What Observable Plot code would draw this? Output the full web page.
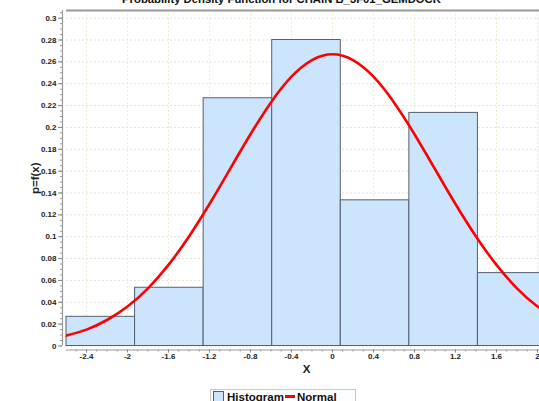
<!DOCTYPE html>
<html>
<head>
<meta charset="utf-8">
<script src="https://cdn.jsdelivr.net/npm/d3@7"></script>
<script src="https://cdn.jsdelivr.net/npm/@observablehq/plot@0.6"></script>
<style>
  html, body { margin: 0; padding: 0; background: #fff; }
  body { width: 539px; height: 401px; overflow: hidden; position: relative; font-family: "Liberation Sans", Arial, sans-serif; }
  #title { position: absolute; z-index: 5; top: -7.5px; left: 0; width: 563px; text-align: center; font-weight: bold; font-size: 11.3px; line-height: 12px; white-space: nowrap; color: #111; }
  #chart { position: absolute; top: 0; left: 0; width: 548px; }
  #chart svg { max-width: none !important; }
  #legend { position: absolute; z-index: 5; left: 210px; top: 389px; width: 144px; height: 20px; border: 1px solid #c8c8c8; background: #fff; font-weight: bold; font-size: 11.5px; color: #111; }
  #legend .item { position: absolute; top: 1px; white-space: nowrap; }
  .swatch { display: inline-block; width: 9px; height: 9px; background: #cce4fc; border: 1px solid #556070; vertical-align: -1px; margin-right: 3px; }
  .redline { display: inline-block; width: 10px; height: 3px; background: #ff0000; vertical-align: 3px; margin-right: 2px; }
</style>
</head>
<body>
<div id="chart"></div>
<div id="title">Probability Density Function for CHAIN B_3F01_GEMDOCK</div>
<div id="legend">
  <span class="item" style="left:2px"><span class="swatch"></span>Histogram</span>
  <span class="item" style="left:74px"><span class="redline"></span>Normal</span>
</div>
<script>
// Histogram bins (edges) and heights
const binEdges = [-2.595, -1.926, -1.257, -0.588, 0.081, 0.750, 1.419, 2.088];
const binHeights = [0.0267, 0.0533, 0.2267, 0.28, 0.1333, 0.2133, 0.0667];

// Normal curve points
const curveX = [-2.6, -2.4, -2.2, -2.0, -1.8, -1.6, -1.4, -1.2, -1.0, -0.8, -0.6, -0.4, -0.2, 0.0, 0.2, 0.4, 0.6, 0.8, 1.0, 1.2, 1.4, 1.6, 1.8, 2.0, 2.2];
const curveY = [0.0095, 0.0150, 0.0238, 0.0361, 0.0528, 0.0742, 0.1002, 0.1299, 0.1619, 0.1938, 0.2229, 0.2464, 0.2616, 0.2669, 0.2616, 0.2464, 0.2229, 0.1938, 0.1619, 0.1299, 0.1002, 0.0742, 0.0528, 0.0361, 0.0238];

// Tick values / labels
const xTicks = [-2.4, -2, -1.6, -1.2, -0.8, -0.4, 0, 0.4, 0.8, 1.2, 1.6, 2];
const xTickLabels = ["-2.4", "-2", "-1.6", "-1.2", "-0.8", "-0.4", "0", "0.4", "0.8", "1.2", "1.6", "2"];
const yTicks = [0, 0.02, 0.04, 0.06, 0.08, 0.1, 0.12, 0.14, 0.16, 0.18, 0.2, 0.22, 0.24, 0.26, 0.28, 0.3];
const yTickLabels = ["0", "0.02", "0.04", "0.06", "0.08", "0.1", "0.12", "0.14", "0.16", "0.18", "0.2", "0.22", "0.24", "0.26", "0.28", "0.3"];

const xDomain = [binEdges[0], binEdges[binEdges.length - 1]];
const yDomain = [0, 0.307];

const bins = binHeights.map((h, i) => ({x1: binEdges[i], x2: binEdges[i + 1], h}));
const curve = curveX.map((x, i) => ({x, y: curveY[i]}));
const xMinor = d3.range(-25, 21).map(i => i / 10).filter(v => v >= xDomain[0] && v <= xDomain[1]);
const yMinor = d3.range(0, 62).map(i => i * 0.005).filter(v => v <= yDomain[1]);

const xLab = new Map(xTicks.map((t, i) => [t, xTickLabels[i]]));
const yLab = new Map(yTicks.map((t, i) => [t, yTickLabels[i]]));

const chart = Plot.plot({
  width: 548,
  height: 380,
  marginTop: 10,
  marginBottom: 34.5,
  marginLeft: 66,
  marginRight: 2,
  x: {domain: xDomain},
  y: {domain: yDomain},
  style: {fontFamily: "'Liberation Sans', Arial, sans-serif", fontSize: "8px", background: "#fff", maxWidth: "none"},
  marks: [
    Plot.gridY(yTicks, {stroke: "#e2e2d6", strokeOpacity: 1, strokeDasharray: "2,2"}),
    Plot.gridX(xTicks, {stroke: "#ececd4", strokeOpacity: 1, strokeDasharray: "2,2"}),
    Plot.rectY(bins, {x1: "x1", x2: "x2", y: "h", fill: "#cce4fc", stroke: "#556070", strokeWidth: 1}),
    Plot.line(curve, {x: "x", y: "y", stroke: "#ff0000", strokeWidth: 2.6, curve: "natural", clip: true}),
    // top frame line
    Plot.ruleY([yDomain[1]], {stroke: "#999", strokeWidth: 2}),
    // y axis (offset)
    Plot.ruleX([xDomain[0]], {dx: -4, stroke: "#999", strokeWidth: 1.2}),
    Plot.axisY(yMinor, {dx: -4, tickSize: 2, text: null, stroke: "#999"}),
    Plot.axisY(yTicks, {dx: -4, tickSize: 4, tickPadding: 2, stroke: "#888", fontWeight: "bold", fill: "#222", tickFormat: d => yLab.get(d), label: null}),
    // x axis (offset)
    Plot.ruleY([0], {dy: 4, stroke: "#999", strokeWidth: 1.2}),
    Plot.axisX(xMinor, {dy: 4, tickSize: 2, text: null, stroke: "#999"}),
    Plot.axisX(xTicks, {dy: 4, tickSize: 3, tickPadding: 0, stroke: "#888", fontWeight: "bold", fill: "#222", tickFormat: d => xLab.get(d), label: null}),
    // axis labels
    Plot.text(["p=f(x)"], {frameAnchor: "left", dx: -31, rotate: -90, textAnchor: "middle", fontSize: 11.5, fontWeight: "bold", fill: "#222"}),
    Plot.text(["X"], {frameAnchor: "bottom", dy: 23.5, lineAnchor: "middle", fontSize: 11.5, fontWeight: "bold", fill: "#222"})
  ]
});
document.getElementById("chart").appendChild(chart);
</script>
</body>
</html>
